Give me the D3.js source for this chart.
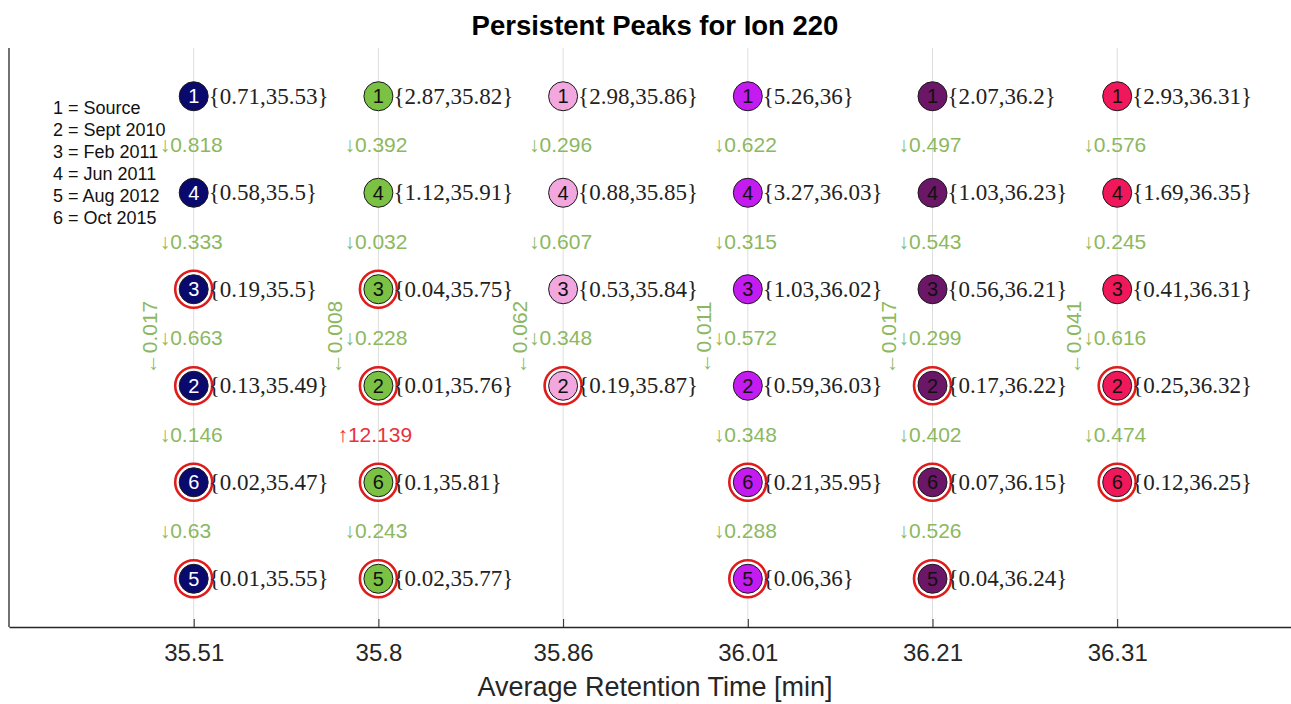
<!DOCTYPE html>
<html>
<head>
<meta charset="utf-8">
<script src="https://cdn.jsdelivr.net/npm/d3@7"></script>
<style>
  body { margin: 0; background: #fff; }
  svg { display: block; font-family: "Liberation Sans", Arial, sans-serif; }
</style>
</head>
<body>
<div id="chart"></div>
<script>
// data
const rtLabels = ["35.51", "35.8", "35.86", "36.01", "36.21", "36.31"];
const peakColors = ["#0a0a6e", "#7bc143", "#f2a8de", "#c41cf0", "#6b1667", "#f0185a"];
const numColors = ["#fff", "#111", "#111", "#111", "#111", "#111"];
const sampleNames = ["Source", "Sept 2010", "Feb 2011", "Jun 2011", "Aug 2012", "Oct 2015"];
// sample id shown in each row, top to bottom
const rowSamples = [1, 4, 3, 2, 6, 5];

// peak area per column, rows in rowSamples order (null = missing)
const peakArea = [
  [0.71, 0.58, 0.19, 0.13, 0.02, 0.01],
  [2.87, 1.12, 0.04, 0.01, 0.1, 0.02],
  [2.98, 0.88, 0.53, 0.19, null, null],
  [5.26, 3.27, 1.03, 0.59, 0.21, 0.06],
  [2.07, 1.03, 0.56, 0.17, 0.07, 0.04],
  [2.93, 1.69, 0.41, 0.25, 0.12, null]
];
const peakRT = [
  [35.53, 35.5, 35.5, 35.49, 35.47, 35.55],
  [35.82, 35.91, 35.75, 35.76, 35.81, 35.77],
  [35.86, 35.85, 35.84, 35.87, null, null],
  [36, 36.03, 36.02, 36.03, 35.95, 36],
  [36.2, 36.23, 36.21, 36.22, 36.15, 36.24],
  [36.31, 36.35, 36.31, 36.32, 36.25, null]
];
// red ring flags
const ringed = [
  [0, 0, 1, 1, 1, 1],
  [0, 0, 1, 1, 1, 1],
  [0, 0, 0, 1, 0, 0],
  [0, 0, 0, 0, 1, 1],
  [0, 0, 0, 1, 1, 1],
  [0, 0, 0, 1, 1, 0]
];
// ratio between consecutive rows (negative = increase, drawn red with up arrow)
const stepRatio = [
  [0.818, 0.333, 0.663, 0.146, 0.63],
  [0.392, 0.032, 0.228, -12.139, 0.243],
  [0.296, 0.607, 0.348],
  [0.622, 0.315, 0.572, 0.348, 0.288],
  [0.497, 0.543, 0.299, 0.402, 0.526],
  [0.576, 0.245, 0.616, 0.474]
];
const overallShift = [0.017, 0.008, 0.062, 0.011, 0.017, 0.041];

const width = 1291, height = 704;
const margin = {top: 48, left: 9, bottom: 77};

const svg = d3.select("#chart").append("svg")
  .attr("width", width)
  .attr("height", height);

const xScale = d3.scaleLinear()
  .domain([0, 7])
  .range([margin.left, margin.left + 7 * 184.7]);

const yScale = d3.scaleLinear()
  .domain([0.5, 6.5])
  .range([margin.top, height - margin.bottom]);

const cols = d3.range(rtLabels.length);

// grid lines
svg.append("g").selectAll("line")
  .data(cols)
  .join("line")
    .attr("x1", i => xScale(i + 1))
    .attr("x2", i => xScale(i + 1))
    .attr("y1", margin.top)
    .attr("y2", height - margin.bottom)
    .attr("stroke", "#dedede")
    .attr("stroke-width", 1);

// x axis
const xAxis = svg.append("g")
  .attr("transform", `translate(0,${height - margin.bottom})`)
  .call(d3.axisBottom(xScale)
    .tickValues(cols.map(i => i + 1))
    .tickFormat(v => rtLabels[v - 1])
    .tickSizeInner(-8)
    .tickSizeOuter(0)
    .tickPadding(17));
xAxis.select(".domain").attr("stroke", "#262626").attr("stroke-width", 1.3);
xAxis.selectAll(".tick line").attr("stroke", "#262626");
xAxis.selectAll(".tick text")
  .attr("fill", "#262626")
  .attr("font-size", "24px")
  .attr("font-family", "Liberation Sans, Arial, sans-serif");

// left axis line
svg.append("line")
  .attr("x1", margin.left).attr("x2", margin.left)
  .attr("y1", margin.top).attr("y2", height - margin.bottom)
  .attr("stroke", "#262626")
  .attr("stroke-width", 1.3);

// title and label
svg.append("text")
  .attr("x", 655).attr("y", 35)
  .attr("text-anchor", "middle")
  .attr("font-size", "27.5px")
  .attr("font-weight", "bold")
  .attr("fill", "#000")
  .text("Persistent Peaks for Ion 220");

svg.append("text")
  .attr("x", 655).attr("y", 696)
  .attr("text-anchor", "middle")
  .attr("font-size", "27px")
  .attr("fill", "#262626")
  .text("Average Retention Time [min]");

// legend
svg.append("g").selectAll("text")
  .data(sampleNames)
  .join("text")
    .attr("x", 53)
    .attr("y", (d, i) => 114 + i * 22)
    .attr("font-size", "18px")
    .attr("fill", "#111")
    .text((d, i) => (i + 1) + " = " + d);

// peaks
const points = [];
cols.forEach(c => {
  peakArea[c].forEach((a, r) => {
    if (a == null) return;
    points.push({col: c, row: r, sample: rowSamples[r], area: a, rt: peakRT[c][r], ring: ringed[c][r]});
  });
});

const pts = svg.append("g").selectAll("g")
  .data(points)
  .join("g")
    .attr("transform", d => `translate(${xScale(d.col + 1)},${yScale(d.row + 1)})`);

pts.filter(d => d.ring).append("circle")
  .attr("r", 18.5)
  .attr("fill", "#fff")
  .attr("stroke", "#e01b1b")
  .attr("stroke-width", 2.6);

pts.append("circle")
  .attr("r", 14.5)
  .attr("fill", d => peakColors[d.col])
  .attr("stroke", "#1a1a1a")
  .attr("stroke-width", 1);

pts.append("text")
  .attr("text-anchor", "middle")
  .attr("dy", "0.36em")
  .attr("font-size", "20px")
  .attr("fill", d => numColors[d.col])
  .text(d => d.sample);

pts.append("text")
  .attr("x", 15)
  .attr("dy", "0.33em")
  .attr("font-family", "Liberation Serif, serif")
  .attr("font-size", "23px")
  .attr("fill", "#222")
  .text(d => "{" + d.area + "," + d.rt + "}");

// step ratios between rows
const steps = [];
cols.forEach(c => stepRatio[c].forEach((v, r) => steps.push({col: c, row: r, v: v})));

svg.append("g").selectAll("text")
  .data(steps)
  .join("text")
    .attr("x", d => xScale(d.col + 1) + (d.v < 0 ? -41 : -34))
    .attr("y", d => yScale(d.row + 1.5))
    .attr("dy", "0.36em")
    .attr("font-size", "21px")
    .attr("fill", d => d.v < 0 ? "#e8323c" : "#8cb860")
    .text(d => (d.v < 0 ? "\u2191" : "\u2193") + Math.abs(d.v));

// overall shift labels, rotated
svg.append("g").selectAll("text")
  .data(overallShift)
  .join("text")
    .attr("transform", (d, i) => `translate(${xScale(i + 1) - 44},${yScale(3.5)}) rotate(-90)`)
    .attr("text-anchor", "middle")
    .attr("dy", "0.36em")
    .attr("font-size", "21px")
    .attr("fill", "#8cb860")
    .text(d => "\u2190" + d);
</script>
</body>
</html>
